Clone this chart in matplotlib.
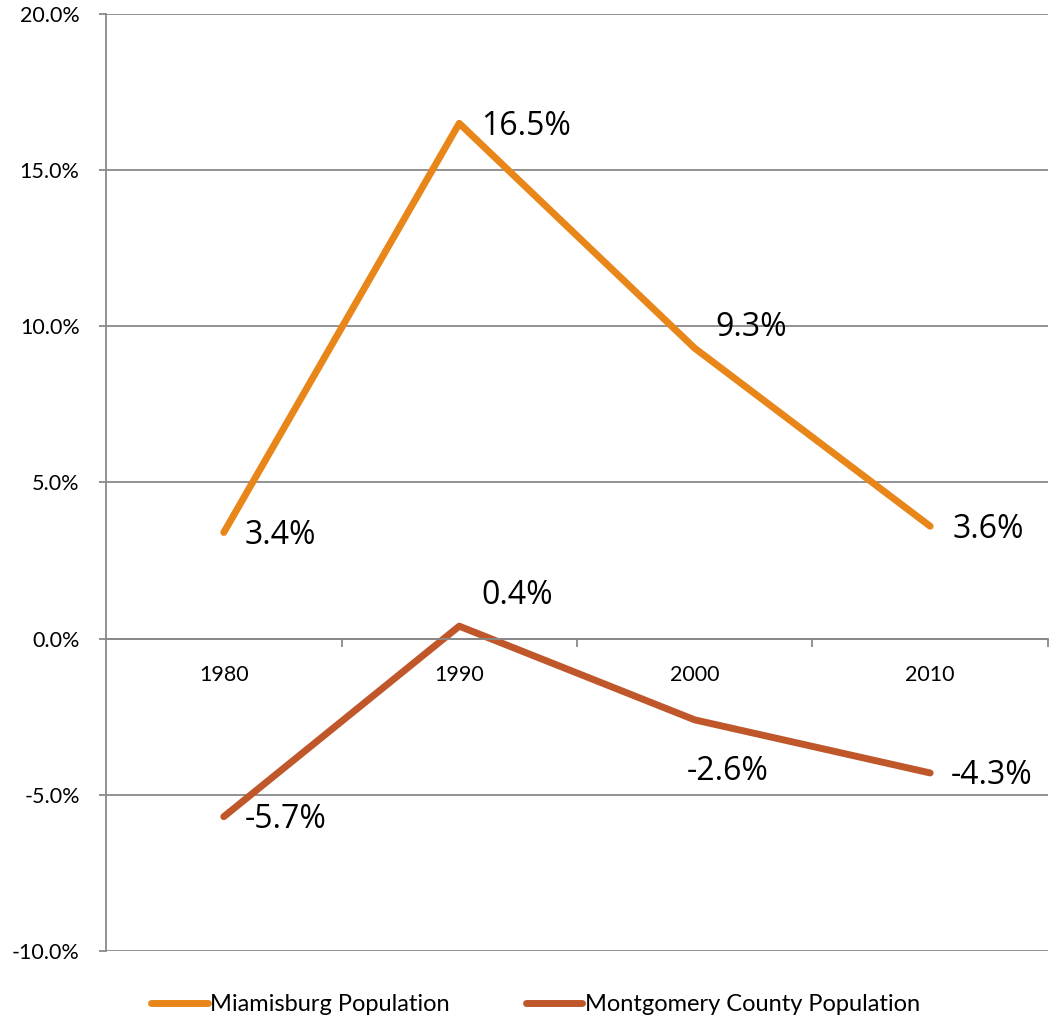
import numpy as np
import matplotlib.pyplot as plt
from matplotlib.ticker import FixedLocator, FuncFormatter

years = ['1980', '1990', '2000', '2010']
miamisburg = [3.4, 16.5, 9.3, 3.6]
montgomery = [-5.7, 0.4, -2.6, -4.3]

# label offsets in points (dx, dy)
off_mia = [(15, -2), (16, -2), (15, 15), (16, -2)]
off_mon = [(15, -2), (16, 22), (-6, -37), (15, -2)]

c_mia = '#E8861A'
c_mon = '#C0572B'
grey = '#898989'

fig = plt.figure(figsize=(10.5, 10.23), dpi=100)
ax = fig.add_axes([0.101, 0.0704, 0.897, 0.9159])

x = np.arange(len(years))
ax.plot(x, miamisburg, color=c_mia, lw=5, solid_capstyle='round',
        solid_joinstyle='round', label='Miamisburg Population')
ax.plot(x, montgomery, color=c_mon, lw=5, solid_capstyle='round',
        solid_joinstyle='round', label='Montgomery County Population')

for xi, v, o in zip(x, miamisburg, off_mia):
    ax.annotate('%.1f%%' % v, (xi, v), xytext=o, textcoords='offset points',
                ha='left', va='center', fontsize=23, family='Open Sans')
for xi, v, o in zip(x, montgomery, off_mon):
    ax.annotate('%.1f%%' % v, (xi, v), xytext=o, textcoords='offset points',
                ha='left', va='center', fontsize=23, family='Open Sans')

ax.set_xlim(-0.5, 3.5)
ax.set_ylim(-10, 20)
ax.set_yticks(np.arange(-10, 21, 5))
ax.yaxis.set_major_formatter(FuncFormatter(lambda v, p: '%.1f%%' % v))
ax.grid(axis='y', color=grey, lw=1.3)
ax.set_axisbelow(True)

ax.spines['top'].set_visible(False)
ax.spines['right'].set_visible(False)
ax.spines['bottom'].set_position(('data', 0))
ax.spines['bottom'].set_color(grey)
ax.spines['left'].set_color(grey)
ax.spines['left'].set_linewidth(1.3)
ax.spines['bottom'].set_linewidth(1.3)

ax.set_xticks(x)
ax.set_xticklabels(years)
ax.xaxis.set_minor_locator(FixedLocator([0.5, 1.5, 2.5, 3.5]))
ax.tick_params(axis='x', which='major', length=0, pad=19, labelsize=15.5)
ax.tick_params(axis='x', which='minor', length=6, width=1.3, color=grey, direction='out')
ax.tick_params(axis='y', length=5, width=1.3, color=grey, pad=14, labelsize=15.5)
for t in ax.get_xticklabels() + ax.get_yticklabels():
    t.set_family('Lato')

fig.legend(loc='lower center', bbox_to_anchor=(0.51, -0.013), ncol=2, frameon=False,
           prop={'family': 'Lato', 'size': 17}, handlelength=2.4,
           handletextpad=0.1, columnspacing=3.2)

fig.savefig('out.png', dpi=100)
